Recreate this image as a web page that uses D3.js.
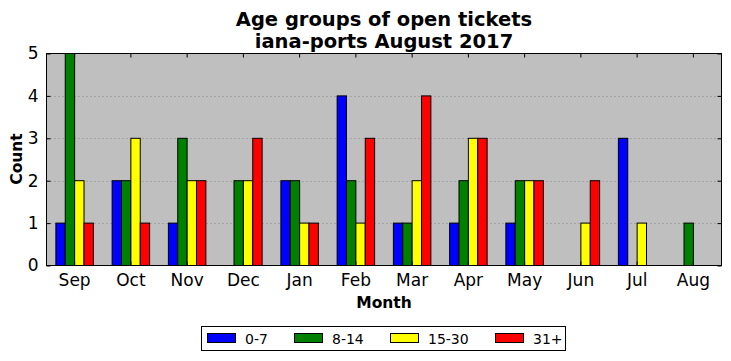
<!DOCTYPE html>
<html><head><meta charset="utf-8">
<script src="https://cdn.jsdelivr.net/npm/d3@7"></script>
<style>body{margin:0;background:#fff}svg{display:block}text{font-family:"DejaVu Sans",sans-serif}</style>
</head><body><svg id="c" width="731" height="361"></svg>
<script>
const months = ["Sep","Oct","Nov","Dec","Jan","Feb","Mar","Apr","May","Jun","Jul","Aug"];
const seriesNames = ["0-7","8-14","15-30","31+"];
const seriesColors = ["#0000ff","#008000","#ffff00","#ff0000"];
const age0_7   = [1,2,1,0,2,4,1,1,1,0,3,0];
const age8_14  = [5,2,3,2,2,2,1,2,2,0,0,1];
const age15_30 = [2,3,2,2,1,1,2,3,2,1,1,0];
const age31    = [1,1,2,3,1,3,4,3,2,2,0,0];
const yTicks = [0,1,2,3,4,5];
const series = [age0_7, age8_14, age15_30, age31];

const svg = d3.select("#c");
const L=46.5, R=721.5, T=53.5, B=265.5;
const x = d3.scaleBand().domain(months).range([L,R]).padding(0);
const y = d3.scaleLinear().domain([0,5]).range([B,T]);
const bw = x.bandwidth()/6;

svg.append("rect").attr("x",L).attr("y",T).attr("width",R-L).attr("height",B-T).attr("fill","#bfbfbf");
svg.append("g").selectAll("line").data(yTicks.filter(d=>d>0&&d<5)).join("line")
  .attr("x1",L).attr("x2",R).attr("y1",d=>Math.round(y(d))+0.5).attr("y2",d=>Math.round(y(d))+0.5)
  .attr("stroke","#888").attr("stroke-dasharray","1,3").attr("stroke-width",1);
series.forEach((vals,si)=>{
  svg.append("g").selectAll("rect").data(vals).join("rect")
    .attr("x",(d,i)=>x(months[i])+bw*(1+si))
    .attr("y",d=>y(d))
    .attr("width",bw)
    .attr("height",d=>y(0)-y(d))
    .attr("fill",seriesColors[si]).attr("stroke","#000").attr("stroke-width",1);
});
svg.append("rect").attr("x",L).attr("y",T).attr("width",R-L).attr("height",B-T).attr("fill","none").attr("stroke","#000").attr("stroke-width",1);
const xb = svg.append("g").attr("transform",`translate(0,${B})`).call(d3.axisBottom(x).tickSize(-4).tickPadding(8));
const xt = svg.append("g").attr("transform",`translate(0,${T})`).call(d3.axisTop(x).tickSize(-4).tickFormat(""));
const yl = svg.append("g").attr("transform",`translate(${L},0)`).call(d3.axisLeft(y).tickValues(yTicks).tickFormat(d3.format("d")).tickSize(-4).tickPadding(8));
const yr = svg.append("g").attr("transform",`translate(${R},0)`).call(d3.axisRight(y).tickValues(yTicks).tickSize(-4).tickFormat(""));
[xb,xt,yl,yr].forEach(g=>{g.select(".domain").remove();g.selectAll("line").attr("stroke","#000");g.selectAll("text").attr("font-size",17).attr("fill","#000").attr("font-family","DejaVu Sans");});
xb.selectAll("text").attr("dy","0.71em");
svg.append("text").attr("x",384).attr("y",26).attr("text-anchor","middle").attr("font-size",19.5).attr("font-weight","bold").text("Age groups of open tickets");
svg.append("text").attr("x",384).attr("y",48).attr("text-anchor","middle").attr("font-size",19.5).attr("font-weight","bold").text("iana-ports August 2017");
svg.append("text").attr("x",384).attr("y",308).attr("text-anchor","middle").attr("font-size",15.5).attr("font-weight","bold").text("Month");
svg.append("text").attr("transform","translate(22,159) rotate(-90)").attr("text-anchor","middle").attr("font-size",15.5).attr("font-weight","bold").text("Count");
const lg = svg.append("g");
lg.append("rect").attr("x",201.5).attr("y",326.5).attr("width",364).attr("height",24).attr("fill","#fff").attr("stroke","#000");
const lx = [207,294,390,495];
seriesNames.forEach((n,i)=>{
  lg.append("rect").attr("x",lx[i]+0.5).attr("y",333.5).attr("width",28).attr("height",9).attr("fill",seriesColors[i]).attr("stroke","#000");
  lg.append("text").attr("x",lx[i]+38).attr("y",343.5).attr("font-size",14).text(n);
});
</script></body></html>
